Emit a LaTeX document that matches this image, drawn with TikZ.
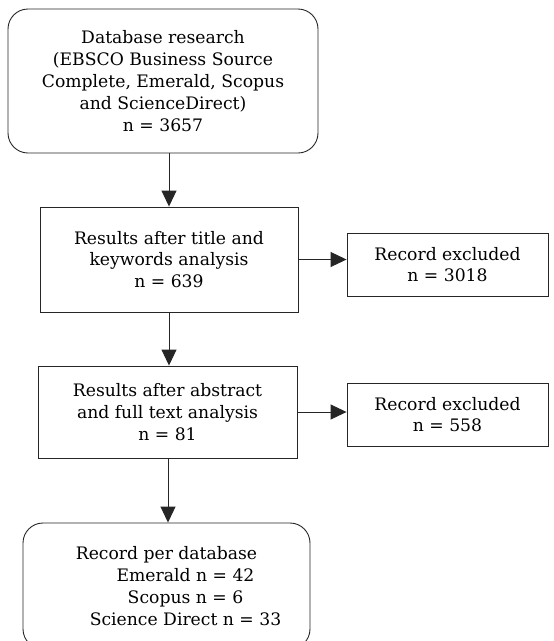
\documentclass[tikz,border=0pt]{standalone}
\usepackage{fontspec}
\setmainfont{DejaVu Serif}
\usetikzlibrary{arrows.meta}
\begin{document}
\begin{tikzpicture}[x=1pt,y=-1pt,
  every node/.style={font=\fontsize{17.2}{21.8}\selectfont, text=black, align=center, inner sep=0pt},
  box/.style={draw=black!85, line width=0.9pt},
  rbox/.style={box, rounded corners=20pt},
  conn/.style={draw=black!85, line width=0.9pt, -{Triangle[length=16pt,width=15pt]}}]
\useasboundingbox (0,0) rectangle (554,641);
\node[rbox, minimum width=310pt, minimum height=144pt] (db) at (163,81)
  {Database research\\(EBSCO Business Source\\Complete, Emerald, Scopus\\and ScienceDirect)\\n = 3657};
\node[box, minimum width=258pt, minimum height=105pt] (title) at (169,259.5)
  {Results after title and\\keywords analysis\\n = 639};
\node[box, minimum width=201pt, minimum height=63pt] (ex1) at (447.5,264.5)
  {Record excluded\\n = 3018};
\node[box, minimum width=259pt, minimum height=92pt] (abs) at (167.5,412)
  {Results after abstract\\and full text analysis\\n = 81};
\node[box, minimum width=201pt, minimum height=63pt] (ex2) at (447.5,414.5)
  {Record excluded\\n = 558};
\node[rbox, minimum width=287pt, minimum height=126pt] (rec) at (166.5,586)
  {Record per database\\\hspace*{38pt}Emerald n = 42\\\hspace*{38pt}Scopus n = 6\\\hspace*{38pt}Science Direct n = 33};
\coordinate (a1) at (169,153);
\draw[conn] (a1) -- (title.north);
\draw[conn] (title.east) -- (ex1.west |- title.east);
\draw[conn] (title.south) -- (abs.north -| title.south);
\draw[conn] (abs.east) -- (ex2.west |- abs.east);
\draw[conn] (abs.south -| 168,0) -- (rec.north -| 168,0);
\end{tikzpicture}
\end{document}
